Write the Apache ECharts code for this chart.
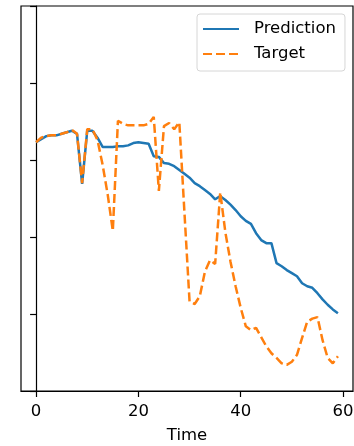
<!DOCTYPE html>
<html>
<head>
<meta charset="utf-8">
<script src="https://cdn.jsdelivr.net/npm/echarts@6/dist/echarts.min.js"></script>
<style>
html,body{margin:0;padding:0;background:#fff;}
#c{width:354px;height:446px;}
</style>
</head>
<body>
<div id="c"></div>
<script>
const timeSteps = Array.from({length: 60}, (_, i) => i);
const prediction = [3.23,3.27,3.31,3.32,3.32,3.34,3.36,3.38,3.34,2.69,
  3.38,3.38,3.29,3.17,3.17,3.17,3.18,3.18,3.19,3.22,
  3.23,3.22,3.21,3.05,3.04,2.96,2.95,2.92,2.87,2.82,
  2.77,2.70,2.66,2.61,2.56,2.49,2.53,2.48,2.42,2.35,
  2.27,2.21,2.17,2.05,1.96,1.92,1.92,1.66,1.62,1.57,
  1.53,1.49,1.40,1.36,1.34,1.27,1.19,1.12,1.06,1.01];
const target = [3.23,3.29,3.31,3.32,3.32,3.34,3.36,3.39,3.34,2.70,
  3.40,3.40,3.26,2.94,2.55,2.08,3.51,3.47,3.45,3.45,
  3.45,3.45,3.47,3.56,2.60,3.44,3.48,3.40,3.49,2.32,
  1.16,1.13,1.23,1.55,1.70,1.65,2.58,2.06,1.68,1.36,
  1.08,0.84,0.79,0.82,0.70,0.58,0.49,0.43,0.36,0.34,
  0.38,0.47,0.69,0.90,0.94,0.96,0.66,0.43,0.36,0.45];
const xTicks = [0, 20, 40, 60];
const yTicks = [0, 1, 2, 3, 4, 5];

const chart = echarts.init(document.getElementById('c'), null, {renderer: 'canvas'});
const font = 'DejaVu Sans';
chart.setOption({
  animation: false,
  backgroundColor: '#fff',
  textStyle: {fontFamily: font},
  grid: {left: 21, right: 1, top: 6, bottom: 55, show: true, borderColor: '#000', borderWidth: 1.2,
         containLabel: false, outerBoundsMode: 'none'},
  legend: {
    orient: 'vertical',
    left: 197, top: 14,
    backgroundColor: '#fff',
    borderColor: '#d6d6d6', borderWidth: 1, borderRadius: 3,
    padding: [6, 9, 8, 5],
    itemWidth: 36, itemHeight: 14, itemGap: 7,
    itemStyle: {opacity: 0},
    textStyle: {fontSize: 16.5, lineHeight: 18, color: '#000', fontFamily: font, padding: [0, 0, 0, 10]},
    data: ['Prediction', 'Target']
  },
  xAxis: {
    type: 'value', min: -2.95, max: 61.95,
    name: 'Time', nameLocation: 'middle', nameGap: 36,
    nameTextStyle: {fontSize: 16.5, color: '#000', fontFamily: font},
    splitLine: {show: false},
    axisLine: {show: true, onZero: false, lineStyle: {color: '#000', width: 1.2}},
    axisTick: {show: true, length: 6, lineStyle: {color: '#000', width: 1.2}, customValues: xTicks},
    axisLabel: {fontSize: 16.5, color: '#000', margin: 12, fontFamily: font, customValues: xTicks}
  },
  yAxis: {
    type: 'value', min: 0, max: 5, interval: 1,
    splitLine: {show: false},
    axisLine: {show: true, lineStyle: {color: '#000', width: 1.2}},
    axisTick: {show: true, length: 6, lineStyle: {color: '#000', width: 1.2}},
    axisLabel: {show: false}
  },
  series: [
    {
      name: 'Prediction', type: 'line', symbol: 'none',
      data: timeSteps.map((t, i) => [t, prediction[i]]),
      lineStyle: {color: '#1f77b4', width: 2.5},
      itemStyle: {color: '#1f77b4'}
    },
    {
      name: 'Target', type: 'line', symbol: 'none',
      data: timeSteps.map((t, i) => [t, target[i]]),
      lineStyle: {color: '#ff7f0e', width: 2.5, type: [9, 4]},
      itemStyle: {color: '#ff7f0e'}
    }
  ]
});
</script>
</body>
</html>
